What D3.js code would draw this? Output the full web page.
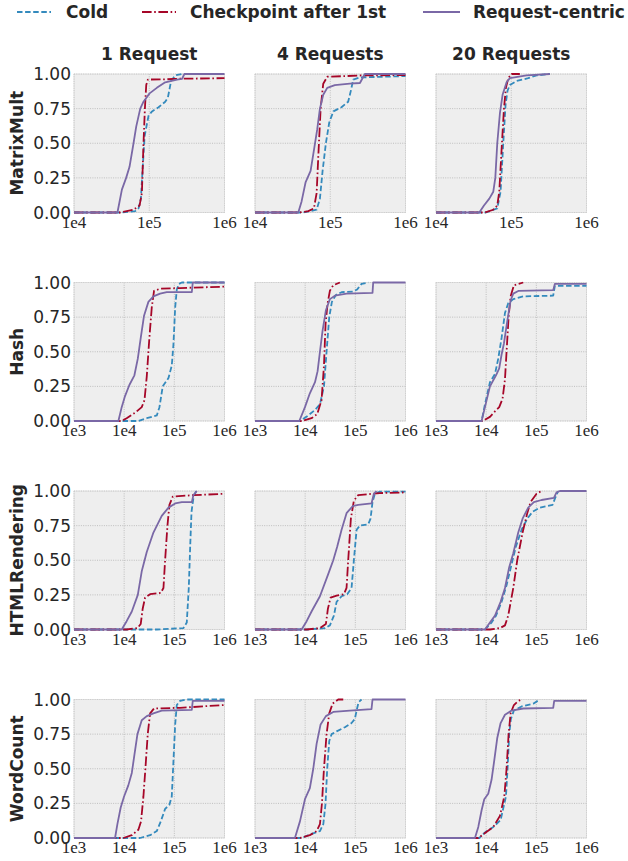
<!DOCTYPE html>
<html>
<head>
<meta charset="utf-8">
<script src="https://cdn.jsdelivr.net/npm/d3@7/dist/d3.min.js"></script>
<style>
  html, body { margin: 0; padding: 0; background: #ffffff; }
  svg { display: block; }
</style>
</head>
<body>
<svg id="chart" width="628" height="861"></svg>
<script>
// Latency CDFs, one panel per workload (rows) and request count (columns).
const workloads = ["MatrixMult", "Hash", "HTMLRendering", "WordCount"];
const requestCounts = ["1 Request", "4 Requests", "20 Requests"];
const seriesNames = ["Cold", "Checkpoint after 1st", "Request-centric"];
const yTicks = [0, 0.25, 0.5, 0.75, 1];
const xDomains = [[1e4, 1e6], [1e3, 1e6], [1e3, 1e6], [1e3, 1e6]];
const xTickValues = [[1e4, 1e5, 1e6], [1e3, 1e4, 1e5, 1e6], [1e3, 1e4, 1e5, 1e6], [1e3, 1e4, 1e5, 1e6]];

// [latency, cumulative fraction]
const matrixMult1Cold = [[4.10e4,0],[6.50e4,0.01],[7.21e4,0.03],[7.74e4,0.1],[8.24e4,0.35],[8.67e4,0.55],[9.79e4,0.7],[1.09e5,0.73],[1.33e5,0.76],[1.63e5,0.8],[1.77e5,0.83],[1.95e5,0.95],[2.22e5,0.99],[2.73e5,1],[1e6,1]];
const matrixMult1Ckpt = [[4.10e4,0],[6.18e4,0.02],[7.43e4,0.05],[7.98e4,0.14],[8.39e4,0.5],[8.75e4,0.75],[9.12e4,0.92],[9.59e4,0.96],[1.72e5,0.962],[2.11e5,0.965],[1e6,0.97]];
const matrixMult1Req = [[3.78e4,0],[4.33e4,0.165],[4.93e4,0.25],[5.47e4,0.33],[6.18e4,0.5],[6.71e4,0.62],[7.59e4,0.75],[8.39e4,0.8],[1.01e5,0.86],[1.26e5,0.9],[1.63e5,0.94],[2.34e5,0.96],[2.73e5,0.965],[2.93e5,1],[1e6,1]];

const matrixMult4Cold = [[4.39e4,0],[6.59e4,0.02],[7.29e4,0.1],[7.91e4,0.3],[8.75e4,0.5],[9.70e4,0.65],[1.10e5,0.73],[1.41e5,0.76],[1.73e5,0.8],[1.88e5,0.88],[2.02e5,0.96],[2.48e5,0.975],[1e6,0.985]];
const matrixMult4Ckpt = [[3.95e4,0],[5.11e4,0.01],[6.07e4,0.03],[6.59e4,0.14],[7.00e4,0.45],[7.45e4,0.75],[8.07e4,0.93],[9.12e4,0.98],[2.74e5,0.99],[1e6,0.992]];
const matrixMult4Req = [[3.76e4,0],[4.16e4,0.08],[4.71e4,0.22],[5.48e4,0.3],[6.07e4,0.45],[6.71e4,0.6],[7.29e4,0.75],[8.07e4,0.85],[9.12e4,0.9],[1.15e5,0.92],[1.82e5,0.93],[2.48e5,0.935],[2.88e5,1],[1e6,1]];

const matrixMult20Cold = [[4.61e4,0],[6.52e4,0.03],[7.21e4,0.15],[7.83e4,0.5],[8.41e4,0.78],[8.93e4,0.88],[9.59e4,0.92],[1.18e5,0.95],[1.68e5,0.97],[2.17e5,0.99],[3.26e5,1]];
const matrixMult20Ckpt = [[4.47e4,0],[5.77e4,0.02],[6.52e4,0.05],[6.93e4,0.15],[7.52e4,0.5],[8.00e4,0.75],[8.49e4,0.9],[9.12e4,0.97],[1.01e5,1],[1.30e5,1]];
const matrixMult20Req = [[3.76e4,0],[4.34e4,0.05],[5.11e4,0.1],[5.77e4,0.15],[6.14e4,0.25],[6.52e4,0.5],[7.08e4,0.72],[7.67e4,0.85],[8.67e4,0.94],[9.59e4,0.97],[1.60e5,0.99],[3.26e5,1]];

const hash1Cold = [[1.92e4,0],[2.82e4,0.02],[4.47e4,0.04],[5.05e4,0.1],[5.87e4,0.25],[7.64e4,0.31],[8.89e4,0.4],[9.59e4,0.55],[1.04e5,0.82],[1.12e5,0.95],[1.24e5,0.99],[1.41e5,1],[1e6,1]];
const hash1Ckpt = [[8.93e3,0],[1.12e4,0.02],[1.65e4,0.06],[2.24e4,0.1],[2.54e4,0.15],[2.82e4,0.32],[3.18e4,0.6],[3.55e4,0.82],[3.94e4,0.94],[5.20e4,0.955],[1.30e5,0.96],[1e6,0.97]];
const hash1Req = [[7.67e3,0],[8.93e3,0.1],[1.04e4,0.18],[1.27e4,0.26],[1.60e4,0.33],[1.87e4,0.45],[2.14e4,0.6],[2.49e4,0.76],[3.04e4,0.86],[3.83e4,0.9],[5.20e4,0.92],[7.06e4,0.93],[2.23e5,0.93],[2.33e5,1],[1e6,1]];

const hash4Cold = [[7.87e3,0],[1.15e4,0.04],[1.57e4,0.08],[1.97e4,0.12],[2.37e4,0.25],[2.67e4,0.5],[3.02e4,0.75],[3.41e4,0.86],[4.10e4,0.91],[5.32e4,0.93],[9.08e4,0.935],[1.09e5,0.95],[1.33e5,0.99],[1.81e5,1]];
const hash4Ckpt = [[8.49e3,0],[1.34e4,0.02],[1.74e4,0.05],[2.12e4,0.15],[2.37e4,0.4],[2.55e4,0.7],[2.80e4,0.85],[3.11e4,0.94],[3.63e4,0.98],[4.92e4,1]];
const hash4Req = [[7.64e3,0],[9.91e3,0.1],[1.24e4,0.2],[1.57e4,0.28],[1.77e4,0.36],[1.97e4,0.5],[2.22e4,0.65],[2.59e4,0.8],[3.11e4,0.88],[3.92e4,0.905],[6.68e4,0.92],[2.20e5,0.925],[2.27e5,1],[1e6,1]];

const hash20Cold = [[8.11e3,0],[9.46e3,0.12],[1.19e4,0.28],[1.50e4,0.34],[1.74e4,0.45],[2.03e4,0.6],[2.37e4,0.78],[2.75e4,0.85],[3.47e4,0.88],[5.48e4,0.9],[2.17e5,0.905],[2.34e5,0.975],[1e6,0.975]];
const hash20Ckpt = [[8.49e3,0],[1.19e4,0.03],[1.50e4,0.07],[1.82e4,0.1],[2.12e4,0.16],[2.37e4,0.3],[2.55e4,0.5],[2.80e4,0.75],[3.07e4,0.9],[3.57e4,0.98],[5.48e4,1]];
const hash20Req = [[8.11e3,0],[9.46e3,0.1],[1.19e4,0.25],[1.57e4,0.33],[1.82e4,0.38],[2.03e4,0.48],[2.26e4,0.56],[2.63e4,0.72],[3.07e4,0.87],[3.47e4,0.92],[4.47e4,0.94],[2.17e5,0.945],[2.34e5,0.99],[1e6,0.99]];

const html1Cold = [[4.47e4,0],[1.52e5,0.01],[1.77e5,0.05],[1.94e5,0.3],[2.07e5,0.6],[2.20e5,0.85],[2.40e5,0.95],[2.72e5,1]];
const html1Ckpt = [[1.12e4,0],[1.84e4,0.01],[2.14e4,0.04],[2.34e4,0.15],[2.61e4,0.23],[3.29e4,0.255],[5.37e4,0.265],[6.07e4,0.3],[6.55e4,0.5],[7.29e4,0.75],[7.98e4,0.9],[9.31e4,0.96],[2.40e5,0.97],[1e6,0.98]];
const html1Req = [[8.93e3,0],[1.12e4,0.06],[1.42e4,0.13],[1.87e4,0.25],[2.24e4,0.42],[2.82e4,0.56],[3.83e4,0.7],[5.61e4,0.82],[7.64e4,0.88],[1.04e5,0.91],[1.41e5,0.92],[2.23e5,0.92],[2.40e5,0.97],[2.81e5,1]];

const html4Cold = [[1.15e4,0],[2.48e4,0.01],[3.11e4,0.03],[3.74e4,0.1],[4.23e4,0.2],[5.32e4,0.24],[6.89e4,0.255],[8.41e4,0.3],[9.35e4,0.5],[1.06e5,0.72],[1.23e5,0.75],[1.81e5,0.76],[2.01e5,0.8],[2.20e5,0.92],[2.45e5,0.98],[3.08e5,0.995],[1e6,0.995]];
const html4Ckpt = [[1.07e4,0],[1.97e4,0.01],[2.59e4,0.04],[2.84e4,0.15],[3.21e4,0.23],[4.23e4,0.245],[5.92e4,0.255],[6.68e4,0.3],[7.21e4,0.5],[8.15e4,0.8],[9.35e4,0.93],[1.14e5,0.97],[3.08e5,0.985],[1e6,0.99]];
const html4Req = [[8.49e3,0],[1.07e4,0.06],[1.34e4,0.13],[1.97e4,0.24],[2.88e4,0.4],[3.63e4,0.5],[4.36e4,0.6],[5.32e4,0.72],[6.68e4,0.84],[8.81e4,0.89],[1.14e5,0.9],[2.10e5,0.91],[2.34e5,0.98],[2.64e5,1]];

const html20Cold = [[9.46e3,0],[1.28e4,0.05],[1.57e4,0.1],[2.03e4,0.2],[2.55e4,0.32],[3.11e4,0.45],[3.92e4,0.6],[5.08e4,0.72],[6.59e4,0.8],[8.41e4,0.85],[1.18e5,0.88],[2.10e5,0.9],[2.38e5,0.95],[2.73e5,1]];
const html20Ckpt = [[1.19e4,0],[1.88e4,0.01],[2.37e4,0.03],[2.75e4,0.1],[3.47e4,0.3],[4.16e4,0.5],[5.32e4,0.7],[6.59e4,0.84],[7.67e4,0.92],[1.01e5,0.98],[1.27e5,1]];
const html20Req = [[9.46e3,0],[1.19e4,0.05],[1.50e4,0.1],[1.94e4,0.2],[2.37e4,0.3],[2.88e4,0.45],[3.47e4,0.55],[4.36e4,0.7],[5.32e4,0.8],[6.89e4,0.88],[8.93e4,0.92],[1.27e5,0.935],[2.24e5,0.95],[2.53e5,0.99],[2.94e5,1],[1e6,1]];

const wordCount1Cold = [[2.07e4,0],[3.29e4,0.02],[4.47e4,0.05],[5.37e4,0.12],[6.55e4,0.21],[7.98e4,0.24],[8.89e4,0.3],[9.59e4,0.55],[1.04e5,0.82],[1.12e5,0.96],[1.30e5,0.99],[1.77e5,1],[1e6,1]];
const wordCount1Ckpt = [[9.64e3,0],[1.42e4,0.02],[1.92e4,0.06],[2.17e4,0.12],[2.42e4,0.3],[2.65e4,0.5],[2.95e4,0.75],[3.29e4,0.9],[3.94e4,0.935],[1.30e5,0.94],[1e6,0.96]];
const wordCount1Req = [[6.58e3,0],[7.33e3,0.1],[8.53e3,0.22],[9.95e3,0.3],[1.21e4,0.38],[1.42e4,0.47],[1.60e4,0.6],[1.84e4,0.75],[2.24e4,0.85],[2.82e4,0.88],[3.83e4,0.9],[5.61e4,0.92],[2.23e5,0.925],[2.33e5,0.99],[1e6,0.99]];

const wordCount4Cold = [[8.49e3,0],[1.34e4,0.03],[1.97e4,0.05],[2.30e4,0.1],[2.55e4,0.25],[2.75e4,0.5],[3.02e4,0.7],[3.37e4,0.75],[4.23e4,0.77],[6.19e4,0.8],[8.41e4,0.83],[9.79e4,0.86],[1.06e5,0.92],[1.16e5,0.98],[1.33e5,1]];
const wordCount4Ckpt = [[7.87e3,0],[1.24e4,0.02],[1.69e4,0.05],[1.97e4,0.1],[2.16e4,0.25],[2.37e4,0.5],[2.67e4,0.75],[3.02e4,0.9],[3.52e4,0.97],[4.56e4,1],[5.74e4,1]];
const wordCount4Req = [[6.25e3,0],[7.87e3,0.12],[9.91e3,0.28],[1.24e4,0.36],[1.45e4,0.5],[1.69e4,0.68],[2.03e4,0.82],[2.59e4,0.88],[3.63e4,0.91],[7.80e4,0.92],[2.10e5,0.93],[2.20e5,1],[1e6,1]];

const wordCount20Cold = [[7.29e3,0],[9.46e3,0.04],[1.39e4,0.08],[1.94e4,0.13],[2.48e4,0.3],[2.67e4,0.5],[2.88e4,0.75],[3.11e4,0.86],[3.57e4,0.92],[5.08e4,0.95],[8.67e4,0.97],[1.18e5,1]];
const wordCount20Ckpt = [[6.97e3,0],[9.04e3,0.03],[1.39e4,0.08],[1.88e4,0.16],[2.30e4,0.3],[2.55e4,0.5],[2.80e4,0.75],[3.07e4,0.9],[3.57e4,0.96],[4.36e4,0.99],[5.08e4,1]];
const wordCount20Req = [[5.98e3,0],[6.97e3,0.08],[8.11e3,0.2],[9.16e3,0.28],[1.10e4,0.32],[1.28e4,0.42],[1.45e4,0.56],[1.66e4,0.72],[1.94e4,0.83],[2.37e4,0.89],[3.21e4,0.92],[5.48e4,0.935],[2.17e5,0.94],[2.27e5,0.99],[1e6,0.99]];

// panel lookup: [row][col] -> [cold, checkpoint, request-centric]
const panels = [
  [[matrixMult1Cold, matrixMult1Ckpt, matrixMult1Req], [matrixMult4Cold, matrixMult4Ckpt, matrixMult4Req], [matrixMult20Cold, matrixMult20Ckpt, matrixMult20Req]],
  [[hash1Cold, hash1Ckpt, hash1Req], [hash4Cold, hash4Ckpt, hash4Req], [hash20Cold, hash20Ckpt, hash20Req]],
  [[html1Cold, html1Ckpt, html1Req], [html4Cold, html4Ckpt, html4Req], [html20Cold, html20Ckpt, html20Req]],
  [[wordCount1Cold, wordCount1Ckpt, wordCount1Req], [wordCount4Cold, wordCount4Ckpt, wordCount4Req], [wordCount20Cold, wordCount20Ckpt, wordCount20Req]]
];

// styling (matplotlib "bmh" look)
const seriesColors = ["#348ABD", "#A60628", "#7A68A6"];
const seriesDash = ["5.5,2.6", "9.6,2.6,1.6,2.6", null];
const lineWidth = 1.8;
const textColor = "#262626";
const sansFont = "'DejaVu Sans', Verdana, sans-serif";
const serifFont = "'Liberation Serif', 'DejaVu Serif', serif";

const layout = {
  left: 74, colStep: 181, width: 150.5,
  top: 74, rowStep: 208.5, height: 138.5
};

const svg = d3.select("#chart");

// legend
const legendItems = [
  { lineX: 17, lineW: 34, textX: 66 },
  { lineX: 142, lineW: 34, textX: 190 },
  { lineX: 423, lineW: 37, textX: 473 }
];
const legend = svg.append("g");
seriesNames.forEach((name, i) => {
  const it = legendItems[i];
  legend.append("line")
    .attr("x1", it.lineX).attr("x2", it.lineX + it.lineW)
    .attr("y1", 12).attr("y2", 12)
    .attr("stroke", seriesColors[i])
    .attr("stroke-width", lineWidth)
    .attr("stroke-dasharray", seriesDash[i]);
  legend.append("text")
    .attr("x", it.textX).attr("y", 18)
    .attr("font-family", sansFont).attr("font-weight", "bold")
    .attr("font-size", 17).attr("fill", textColor)
    .text(name);
});

// column titles
requestCounts.forEach((t, c) => {
  svg.append("text")
    .attr("x", layout.left + c * layout.colStep + layout.width / 2)
    .attr("y", 60)
    .attr("text-anchor", "middle")
    .attr("font-family", sansFont).attr("font-weight", "bold")
    .attr("font-size", 17).attr("fill", textColor)
    .text(t);
});

const fmtTick = d => "1e" + Math.round(Math.log10(d));

workloads.forEach((wl, r) => {
  const y0 = layout.top + r * layout.rowStep;

  // row label
  svg.append("text")
    .attr("transform", `translate(23,${y0 + layout.height / 2}) rotate(-90)`)
    .attr("text-anchor", "middle")
    .attr("font-family", sansFont).attr("font-weight", "bold")
    .attr("font-size", 17).attr("fill", textColor)
    .text(wl);

  requestCounts.forEach((rc, c) => {
    const x0 = layout.left + c * layout.colStep;
    const g = svg.append("g").attr("transform", `translate(${x0},${y0})`);

    const x = d3.scaleLog().domain(xDomains[r]).range([0, layout.width]);
    const y = d3.scaleLinear().domain([0, 1]).range([layout.height, 0]);

    // background
    g.append("rect")
      .attr("width", layout.width).attr("height", layout.height)
      .attr("fill", "#eeeeee");

    // grid
    g.selectAll(".gx").data(xTickValues[r]).join("line")
      .attr("x1", d => x(d)).attr("x2", d => x(d))
      .attr("y1", 0).attr("y2", layout.height)
      .attr("stroke", "#b2b2b2").attr("stroke-width", 0.8)
      .attr("stroke-dasharray", "1,1.3");
    g.selectAll(".gy").data(yTicks).join("line")
      .attr("x1", 0).attr("x2", layout.width)
      .attr("y1", d => y(d)).attr("y2", d => y(d))
      .attr("stroke", "#b2b2b2").attr("stroke-width", 0.8)
      .attr("stroke-dasharray", "1,1.3");

    // frame
    g.append("rect")
      .attr("width", layout.width).attr("height", layout.height)
      .attr("fill", "none").attr("stroke", "#d4d4d4").attr("stroke-width", 0.6);

    // clip
    const clipId = `clip-${r}-${c}`;
    g.append("clipPath").attr("id", clipId)
      .append("rect").attr("x", -1).attr("y", -1.5)
      .attr("width", layout.width + 2).attr("height", layout.height + 3);

    const line = d3.line().x(d => x(d[0])).y(d => y(d[1]));
    const lines = g.append("g").attr("clip-path", `url(#${clipId})`);
    panels[r][c].forEach((pts, s) => {
      const data = [[xDomains[r][0], 0]].concat(pts);
      lines.append("path")
        .attr("d", line(data))
        .attr("fill", "none")
        .attr("stroke", seriesColors[s])
        .attr("stroke-width", lineWidth)
        .attr("stroke-linejoin", "round")
        .attr("stroke-dasharray", seriesDash[s]);
    });

    // x tick labels
    g.selectAll(".xt").data(xTickValues[r]).join("text")
      .attr("x", d => x(d))
      .attr("y", layout.height + 15)
      .attr("text-anchor", "middle")
      .attr("font-family", serifFont)
      .attr("font-size", 17).attr("fill", textColor)
      .text(fmtTick);

    // y tick labels, first column only
    if (c === 0) {
      g.selectAll(".yt").data(yTicks).join("text")
        .attr("x", -3)
        .attr("y", d => y(d))
        .attr("dy", "0.36em")
        .attr("text-anchor", "end")
        .attr("font-family", sansFont)
        .attr("font-size", 17).attr("fill", textColor)
        .text(d => d3.format(".2f")(d));
    }
  });
});
</script>
</body>
</html>
